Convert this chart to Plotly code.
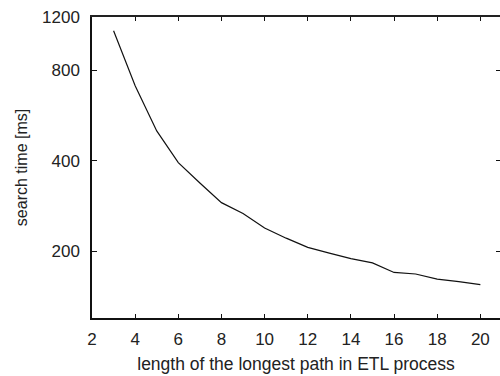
import plotly.graph_objects as go
import math

path_length = [3, 4, 5, 6, 7, 8, 9, 10, 11, 12, 13, 14, 15, 16, 17, 18, 19, 20]
search_time_ms = [1080, 709, 502, 394, 337, 290, 267, 239, 221, 206, 197, 189, 183, 170, 168, 161.5, 158.6, 155]

x_ticks = [2, 4, 6, 8, 10, 12, 14, 16, 18, 20]
y_ticks = [200, 400, 800, 1200]

FONT = "Liberation Sans, Arial, sans-serif"
x_range = [2, 20.91]
y_range = [math.log10(120), math.log10(1200)]

fig = go.Figure()
fig.add_trace(go.Scatter(
    x=path_length, y=search_time_ms, mode="lines",
    line=dict(color="#111111", width=1.2), showlegend=False, hoverinfo="skip"))
# invisible helper trace so the mirror (top/right) axes are drawn
fig.add_trace(go.Scatter(
    x=[path_length[0]], y=[search_time_ms[0]], xaxis="x2", yaxis="y2", mode="markers",
    marker=dict(opacity=0), showlegend=False, hoverinfo="skip"))

fig.update_layout(
    width=500, height=376,
    margin=dict(l=92, r=0, t=17, b=58),
    paper_bgcolor="white", plot_bgcolor="white",
    font=dict(family=FONT, size=17, color="#222222"),
    xaxis=dict(
        range=x_range, tickvals=x_ticks, ticktext=[str(v) for v in x_ticks],
        ticks="inside", ticklen=4, tickwidth=1, tickcolor="#111111",
        showline=True, linecolor="#111111", linewidth=1.5,
        showgrid=False, zeroline=False, ticklabelstandoff=5,
        tickfont=dict(size=17),
        title=dict(text="length of the longest path in ETL process",
                   font=dict(size=17.5), standoff=10),
    ),
    yaxis=dict(
        type="log", range=y_range, tickvals=y_ticks, ticktext=[str(v) for v in y_ticks],
        ticks="inside", ticklen=5, tickwidth=1, tickcolor="#111111",
        showline=True, linecolor="#111111", linewidth=1.5,
        showgrid=False, zeroline=False, ticklabelstandoff=7,
        tickfont=dict(size=17),
        title=dict(text="search time [ms]", font=dict(size=16), standoff=10),
    ),
    xaxis2=dict(
        overlaying="x", side="top", anchor="y", range=x_range, tickvals=x_ticks,
        showticklabels=False, ticks="inside", ticklen=4, tickwidth=1, tickcolor="#111111",
        showline=True, linecolor="#222222", linewidth=2, showgrid=False, zeroline=False,
    ),
    yaxis2=dict(
        overlaying="y", side="right", anchor="x", type="log", range=y_range, tickvals=y_ticks,
        showticklabels=False, ticks="inside", ticklen=4, tickwidth=1, tickcolor="#111111",
        showline=False, showgrid=False, zeroline=False,
    ),
)

fig.write_html("out.html")
